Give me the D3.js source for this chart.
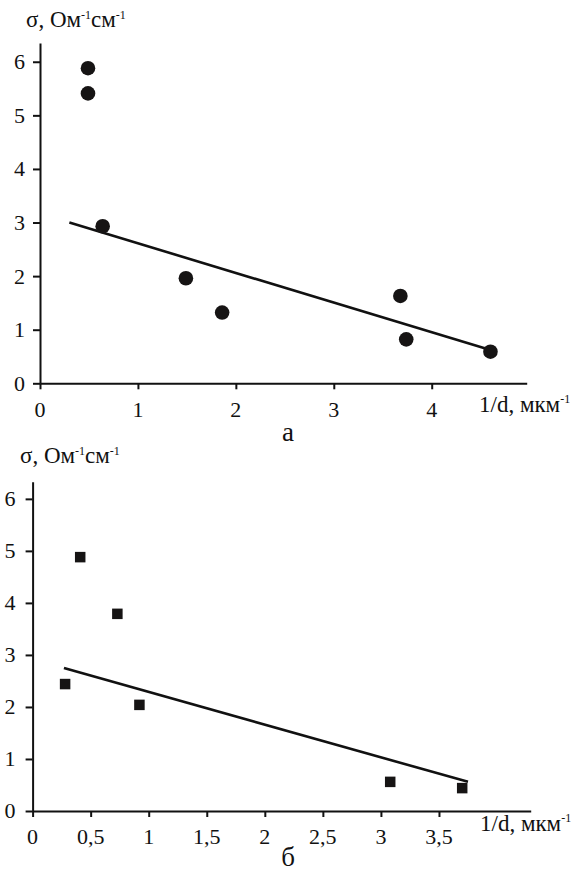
<!DOCTYPE html>
<html>
<head>
<meta charset="utf-8">
<script src="https://cdn.jsdelivr.net/npm/d3@7"></script>
<style>
  body { margin: 0; background: #fff; }
  svg { display: block; font-family: "Liberation Serif", "Times New Roman", serif; }
  .axis path, .axis line { stroke: #111; stroke-width: 2; }
  .lbl { font-size: 22px; fill: #111; }
</style>
</head>
<body>
<svg id="chart" width="571" height="871"></svg>
<script>
// panel "а": circles
const xA = [0.49, 0.49, 0.64, 1.49, 1.86, 3.68, 3.74, 4.60];
const yA = [5.88, 5.41, 2.93, 1.96, 1.32, 1.63, 0.82, 0.59];
const fitXA = [0.30, 4.60];
const fitYA = [3.00, 0.62];
const ticksXA = [0, 1, 2, 3, 4];
const ticksYA = [0, 1, 2, 3, 4, 5, 6];

// panel "б": squares
const xB = [0.28, 0.41, 0.73, 0.92, 3.08, 3.70];
const yB = [2.44, 4.88, 3.79, 2.04, 0.56, 0.44];
const fitXB = [0.27, 3.75];
const fitYB = [2.75, 0.56];
const ticksXB = [0, 0.5, 1, 1.5, 2, 2.5, 3, 3.5];
const ticksYB = [0, 1, 2, 3, 4, 5, 6];

const svg = d3.select("#chart");
const fmt = d => String(d).replace(".", ",");

function panel(opt) {
  const x = d3.scaleLinear().domain(opt.xDomain).range(opt.xRange);
  const y = d3.scaleLinear().domain(opt.yDomain).range(opt.yRange);
  const g = svg.append("g");

  // axes: lines and ticks from d3, labels drawn below in the page font
  g.append("g")
    .attr("class", "axis")
    .attr("transform", `translate(0,${opt.yRange[0]})`)
    .call(d3.axisBottom(x).tickValues(opt.xTicks).tickFormat("").tickSizeInner(6).tickSizeOuter(0));
  g.append("g")
    .attr("class", "axis")
    .attr("transform", `translate(${opt.xRange[0]},0)`)
    .call(d3.axisLeft(y).tickValues(opt.yTicks).tickFormat("").tickSizeInner(7).tickSizeOuter(0));

  g.selectAll("text.xl").data(opt.xTicks).join("text")
    .attr("class", "lbl xl")
    .attr("x", d => x(d))
    .attr("y", opt.yRange[0] + opt.xLabelDy)
    .attr("text-anchor", "middle")
    .text(fmt);
  g.selectAll("text.yl").data(opt.yTicks).join("text")
    .attr("class", "lbl yl")
    .attr("x", opt.xRange[0] + opt.yLabelDx)
    .attr("y", d => y(d))
    .attr("dy", "0.34em")
    .attr("text-anchor", "end")
    .text(fmt);

  // fit line
  const line = d3.line().x(d => x(d[0])).y(d => y(d[1]));
  g.append("path")
    .datum(d3.zip(opt.fitX, opt.fitY))
    .attr("d", line)
    .attr("fill", "none")
    .attr("stroke", "#111")
    .attr("stroke-width", 2.6);

  // points
  const pts = d3.zip(opt.xs, opt.ys);
  if (opt.shape === "circle") {
    g.selectAll("circle.pt").data(pts).join("circle")
      .attr("class", "pt")
      .attr("cx", d => x(d[0]))
      .attr("cy", d => y(d[1]))
      .attr("r", 7.3)
      .attr("fill", "#161414");
  } else {
    const s = 10.5;
    g.selectAll("rect.pt").data(pts).join("rect")
      .attr("class", "pt")
      .attr("x", d => x(d[0]) - s / 2)
      .attr("y", d => y(d[1]) - s / 2)
      .attr("width", s)
      .attr("height", s)
      .attr("fill", "#161414");
  }

  // y title: σ, Ом⁻¹см⁻¹
  const yt = g.append("text")
    .attr("x", opt.yTitle[0])
    .attr("y", opt.yTitle[1])
    .attr("font-size", 23)
    .attr("fill", "#111");
  yt.append("tspan").text("σ, Ом");
  yt.append("tspan").attr("dy", -8).attr("font-size", 12).text("-1");
  yt.append("tspan").attr("dy", 8).text("см");
  yt.append("tspan").attr("dy", -8).attr("font-size", 12).text("-1");

  // x title: 1/d, мкм⁻¹
  const xt = g.append("text")
    .attr("x", opt.xTitle[0])
    .attr("y", opt.xTitle[1])
    .attr("font-size", 23)
    .attr("fill", "#111");
  xt.append("tspan").text("1/d, мкм");
  xt.append("tspan").attr("dy", -9).attr("font-size", 12).text("-1");

  // panel letter
  g.append("text")
    .attr("x", opt.letter[0])
    .attr("y", opt.letter[1])
    .attr("text-anchor", "middle")
    .attr("font-size", 27)
    .attr("fill", "#111")
    .text(opt.letter[2]);
}

panel({
  xs: xA, ys: yA, fitX: fitXA, fitY: fitYA, shape: "circle",
  xDomain: [0, 4.97], xRange: [40, 526.7],
  yDomain: [0, 6.35], yRange: [383.3, 43],
  xTicks: ticksXA, yTicks: ticksYA,
  xLabelDy: 34, yLabelDx: -15,
  yTitle: [26, 27], xTitle: [479, 412], letter: [288, 441, "а"]
});

panel({
  xs: xB, ys: yB, fitX: fitXB, fitY: fitYB, shape: "square",
  xDomain: [0, 4.29], xRange: [32.6, 530.7],
  yDomain: [0, 6.33], yRange: [811, 481.7],
  xTicks: ticksXB, yTicks: ticksYB,
  xLabelDy: 33, yLabelDx: -17,
  yTitle: [20, 463], xTitle: [480, 831], letter: [288, 866, "б"]
});
</script>
</body>
</html>
